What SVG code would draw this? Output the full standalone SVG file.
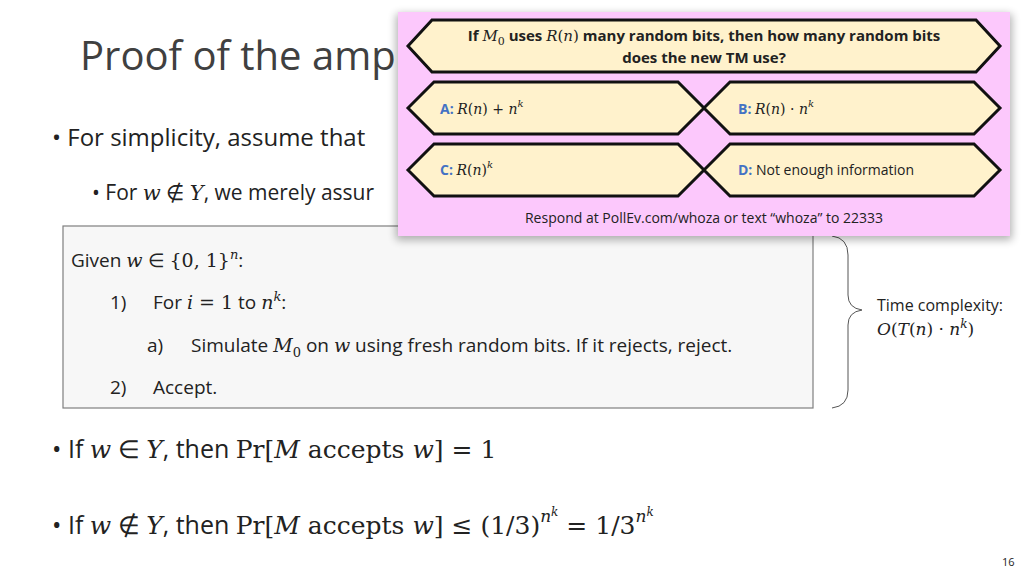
<svg xmlns="http://www.w3.org/2000/svg" width="1024" height="576" viewBox="0 0 1024 576">
<defs>
<style>
.t{font-family:"Open Sans","Liberation Sans",sans-serif;fill:#222}
.m{font-family:"DejaVu Serif","Liberation Serif",serif;font-style:italic}
.r{font-family:"DejaVu Serif","Liberation Serif",serif;font-style:normal}
.hex{fill:#fff2cc;stroke:#111;stroke-width:3}
.lab{fill:#4472c4;font-weight:bold}
</style>
<filter id="sh" x="-5%" y="-5%" width="110%" height="115%"><feGaussianBlur stdDeviation="4"/></filter>
</defs>
<rect width="1024" height="576" fill="#fff"/>
<g id="title"><text class="t" x="80" y="70" font-size="40" style="fill:#404040">Proof of the amp</text></g>
<g id="bullets" class="t">
<text x="52" y="146" font-size="24">• For simplicity, assume that</text>
<text x="92" y="200" font-size="21">• For <tspan class="m">w</tspan> ∉ <tspan class="m">Y</tspan>, we merely assur</text>
<text x="52" y="458" font-size="25">• If <tspan class="m">w</tspan> ∈ <tspan class="m">Y</tspan>, then <tspan class="r">Pr[</tspan><tspan class="m">M</tspan><tspan class="r"> accepts </tspan><tspan class="m">w</tspan><tspan class="r">] = 1</tspan></text>
<text x="52" y="534" font-size="25">• If <tspan class="m">w</tspan> ∉ <tspan class="m">Y</tspan>, then <tspan class="r">Pr[</tspan><tspan class="m">M</tspan><tspan class="r"> accepts </tspan><tspan class="m">w</tspan><tspan class="r">] ≤ (1/3)</tspan><tspan class="m" font-size="17" dy="-12">n</tspan><tspan class="m" font-size="12" dy="-6">k</tspan><tspan class="r" dy="18"> = 1/3</tspan><tspan class="m" font-size="17" dy="-12">n</tspan><tspan class="m" font-size="12" dy="-6">k</tspan></text>
<text x="1002" y="566" font-size="11">16</text>
</g>
<g id="algo">
<rect x="63" y="226" width="750" height="182" fill="#f7f7f7" stroke="#7f7f7f" stroke-width="1.2"/>
<g class="t" font-size="19">
<text x="71" y="267">Given <tspan class="m">w</tspan> ∈ <tspan class="r">{0, 1}</tspan><tspan class="m" font-size="13" dy="-8">n</tspan><tspan dy="8">:</tspan></text>
<text x="110" y="309">1)</text>
<text x="153" y="309">For <tspan class="m">i</tspan><tspan class="r"> = 1</tspan> to <tspan class="m">n</tspan><tspan class="m" font-size="13" dy="-8">k</tspan><tspan dy="8">:</tspan></text>
<text x="147" y="352">a)</text>
<text x="191" y="352">Simulate <tspan class="m">M</tspan><tspan class="r" font-size="13" dy="5">0</tspan><tspan dy="-5"> on </tspan><tspan class="m">w</tspan> using fresh random bits. If it rejects, reject.</text>
<text x="110" y="394">2)</text>
<text x="153" y="394">Accept.</text>
</g>
</g>
<g id="brace">
<path d="M832,236 Q848,238 848,255 L848,295 Q848,308 862,310 Q848,312 848,325 L848,390 Q848,406 832,408" fill="none" stroke="#555" stroke-width="1"/>
<text class="t" x="877" y="311" font-size="16">Time complexity:</text>
<text class="t" x="877" y="335" font-size="17"><tspan class="m">O</tspan><tspan class="r">(</tspan><tspan class="m">T</tspan><tspan class="r">(</tspan><tspan class="m">n</tspan><tspan class="r">) · </tspan><tspan class="m">n</tspan><tspan class="m" font-size="12" dy="-7">k</tspan><tspan class="r" dy="7">)</tspan></text>
</g>
<g id="poll">
<rect x="396" y="14" width="616" height="226" fill="#000" opacity="0.3" filter="url(#sh)"/>
<rect x="398" y="12" width="612" height="224" fill="#fcc8fc"/>
<polygon class="hex" points="408,46 432,20 976,20 1000,46 976,72 432,72"/>
<text class="t" x="704" y="41" font-size="15" font-weight="bold" text-anchor="middle">If <tspan class="m" font-weight="normal">M</tspan><tspan class="r" font-size="11" dy="4" font-weight="normal">0</tspan><tspan dy="-4"> uses </tspan><tspan class="m" font-weight="normal">R</tspan><tspan class="r" font-weight="normal">(</tspan><tspan class="m" font-weight="normal">n</tspan><tspan class="r" font-weight="normal">)</tspan> many random bits, then how many random bits</text>
<text class="t" x="704" y="63" font-size="15" font-weight="bold" text-anchor="middle">does the new TM use?</text>
<polygon class="hex" points="408,108 434,82 678,82 704,108 678,134 434,134"/>
<polygon class="hex" points="704,108 730,82 974,82 1000,108 974,134 730,134"/>
<polygon class="hex" points="408,170 434,144 678,144 704,170 678,196 434,196"/>
<polygon class="hex" points="704,170 730,144 974,144 1000,170 974,196 730,196"/>
<g class="t" font-size="14">
<text x="440" y="114"><tspan class="lab">A:</tspan> <tspan class="m">R</tspan><tspan class="r">(</tspan><tspan class="m">n</tspan><tspan class="r">) + </tspan><tspan class="m">n</tspan><tspan class="m" font-size="10" dy="-7">k</tspan></text>
<text x="738" y="114"><tspan class="lab">B:</tspan> <tspan class="m">R</tspan><tspan class="r">(</tspan><tspan class="m">n</tspan><tspan class="r">) · </tspan><tspan class="m">n</tspan><tspan class="m" font-size="10" dy="-7">k</tspan></text>
<text x="440" y="175"><tspan class="lab">C:</tspan> <tspan class="m">R</tspan><tspan class="r">(</tspan><tspan class="m">n</tspan><tspan class="r">)</tspan><tspan class="m" font-size="10" dy="-7">k</tspan></text>
<text x="738" y="175"><tspan class="lab">D:</tspan> Not enough information</text>
<text x="704" y="223" text-anchor="middle">Respond at PollEv.com/whoza or text “whoza” to 22333</text>
</g>
</g>
</svg>
